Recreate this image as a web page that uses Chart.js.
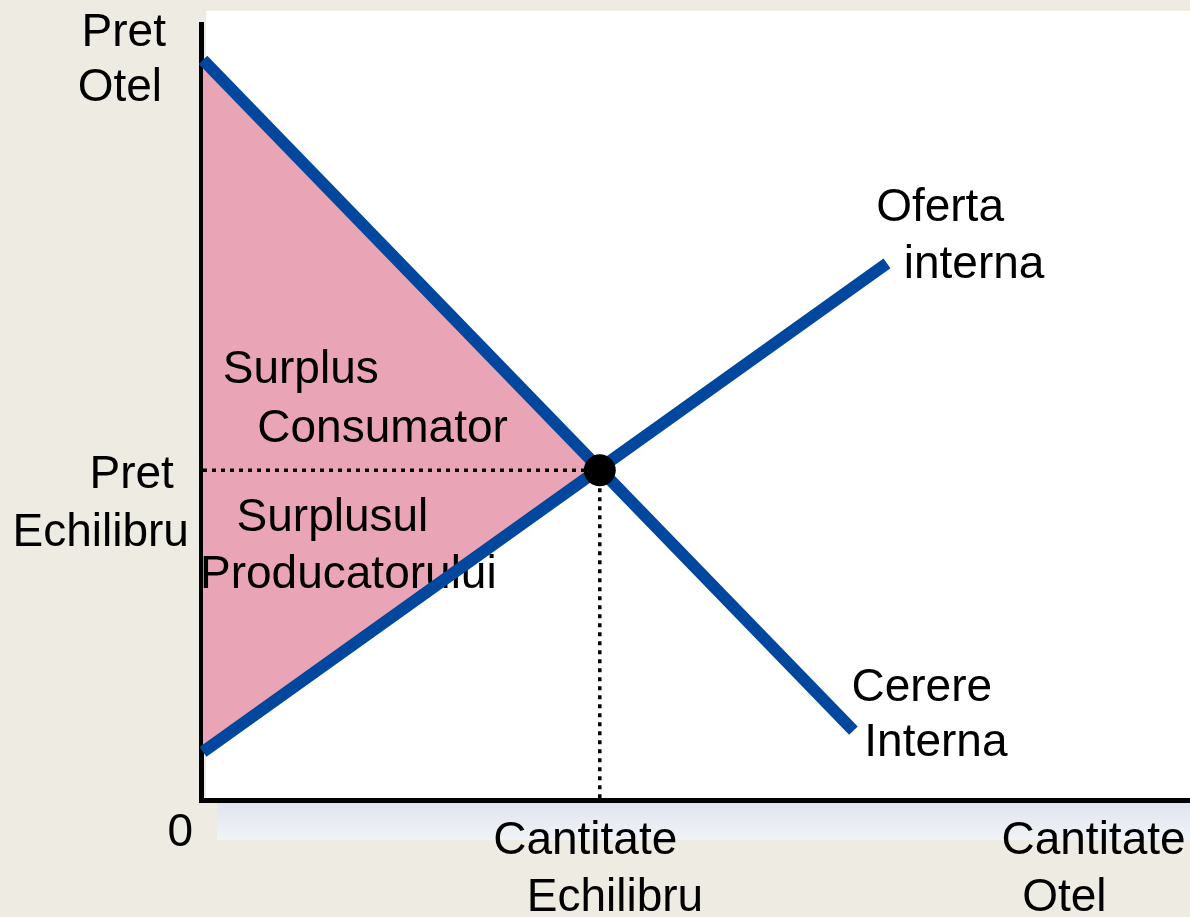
<!DOCTYPE html>
<html>
<head>
<meta charset="utf-8">
<script src="https://cdn.jsdelivr.net/npm/chart.js@4.4.1/dist/chart.umd.min.js"></script>
<style>
  html, body { margin: 0; overflow: hidden; background: #EEEBE3; }
  #wrap { width: 1190px; height: 917px; position: relative; }
  canvas { display: block; }
</style>
</head>
<body>
<div id="wrap"><canvas id="chart"></canvas></div>
<script>
// ---- data (axis units 0..100) ----
const demandQ = [0, 65.9];
const demandP = [93.8, 8.8];
const supplyQ = [0, 69.3];
const supplyP = [6.1, 68];
const eqQ = 40.2;
const eqP = 41.8;

// text labels, anchored in axis units (left edge, middle)
const labels = [
  { t: "Pret", x: -12.3, y: 97.2 },
  { t: "Otel", x: -12.7, y: 90.2 },
  { t: "Oferta", x: 68.2, y: 75.0 },
  { t: "interna", x: 71.0, y: 67.8 },
  { t: "Surplus", x: 2.0, y: 54.4 },
  { t: "Consumator", x: 5.5, y: 47.0 },
  { t: "Pret", x: -11.5, y: 41.2 },
  { t: "Echilibru", x: -19.3, y: 33.8 },
  { t: "Surplusul", x: 3.4, y: 35.7 },
  { t: "Producatorului", x: -0.3, y: 28.5 },
  { t: "Cerere", x: 65.7, y: 14.2 },
  { t: "Interna", x: 67.0, y: 7.2 },
  { t: "0", x: -3.6, y: -4.2 },
  { t: "Cantitate", x: 29.4, y: -5.2 },
  { t: "Echilibru", x: 32.8, y: -12.4 },
  { t: "Cantitate", x: 80.9, y: -5.2 },
  { t: "Otel", x: 83.0, y: -12.4 }
];

const BLUE = "#00479D";
const PINK = "#E9A5B5";
const FONT = '46px "Liberation Sans", Arial, sans-serif';

const pts = (xs, ys) => xs.map((x, i) => ({ x: x, y: ys[i] }));

// background: white plot panel, shadow under the x axis, axes lines
const backdrop = {
  id: "backdrop",
  beforeDatasetsDraw(chart) {
    const { ctx, chartArea: a } = chart;
    ctx.save();
    ctx.fillStyle = "#ffffff";
    ctx.fillRect(a.left + 3, a.top, a.right - a.left, a.bottom - a.top);
    const g = ctx.createLinearGradient(0, a.bottom + 3, 0, a.bottom + 40);
    g.addColorStop(0, "#E1E4ED");
    g.addColorStop(1, "#F0F3F7");
    ctx.fillStyle = g;
    ctx.fillRect(a.left + 14, a.bottom + 3, a.right - a.left, 37);
    ctx.strokeStyle = "#000";
    ctx.lineWidth = 5;
    ctx.beginPath();
    ctx.moveTo(a.left - 1.5, a.top + 11);
    ctx.lineTo(a.left - 1.5, a.bottom + 0.5);
    ctx.lineTo(a.right, a.bottom + 0.5);
    ctx.stroke();
    ctx.restore();
  },
  // texts sit over the pink area but under the blue curves
  afterDatasetDraw(chart, args) {
    if (args.index !== 0) return;
    const { ctx, scales } = chart;
    ctx.save();
    ctx.font = FONT;
    ctx.fillStyle = "#000";
    ctx.textAlign = "left";
    ctx.textBaseline = "middle";
    labels.forEach(l => {
      ctx.fillText(l.t, scales.x.getPixelForValue(l.x), scales.y.getPixelForValue(l.y));
    });
    ctx.restore();
  }
};

new Chart(document.getElementById("chart"), {
  type: "line",
  data: {
    datasets: [
      {
        // consumer + producer surplus triangle
        data: [{ x: 0, y: demandP[0] }, { x: eqQ, y: eqP }, { x: 0, y: supplyP[0] }],
        borderWidth: 0,
        backgroundColor: PINK,
        fill: "shape",
        pointRadius: 0,
        order: 4
      },
      {
        data: [{ x: 0, y: eqP }, { x: eqQ, y: eqP }],
        borderColor: "#000",
        borderWidth: 3.5,
        borderDash: [4, 5],
        pointRadius: 0,
        order: 3
      },
      {
        data: [{ x: eqQ, y: eqP }, { x: eqQ, y: 0 }],
        borderColor: "#000",
        borderWidth: 3.5,
        borderDash: [4, 5],
        pointRadius: 0,
        order: 3
      },
      {
        data: pts(demandQ, demandP),
        borderColor: BLUE,
        borderWidth: 12,
        pointRadius: 0,
        order: 2
      },
      {
        data: pts(supplyQ, supplyP),
        borderColor: BLUE,
        borderWidth: 12,
        pointRadius: 0,
        order: 2
      },
      {
        data: [{ x: eqQ, y: eqP }],
        showLine: false,
        pointRadius: 16,
        pointBackgroundColor: "#000",
        pointBorderWidth: 0,
        order: 1
      }
    ]
  },
  options: {
    responsive: true,
    maintainAspectRatio: false,
    animation: false,
    clip: false,
    layout: { autoPadding: false, padding: { left: 203, right: 0, top: 11, bottom: 117 } },
    plugins: { legend: { display: false }, tooltip: { enabled: false } },
    elements: { line: { tension: 0 } },
    scales: {
      x: { type: "linear", min: 0, max: 100, display: false },
      y: { type: "linear", min: 0, max: 100, display: false }
    }
  },
  plugins: [backdrop]
});
</script>
</body>
</html>
